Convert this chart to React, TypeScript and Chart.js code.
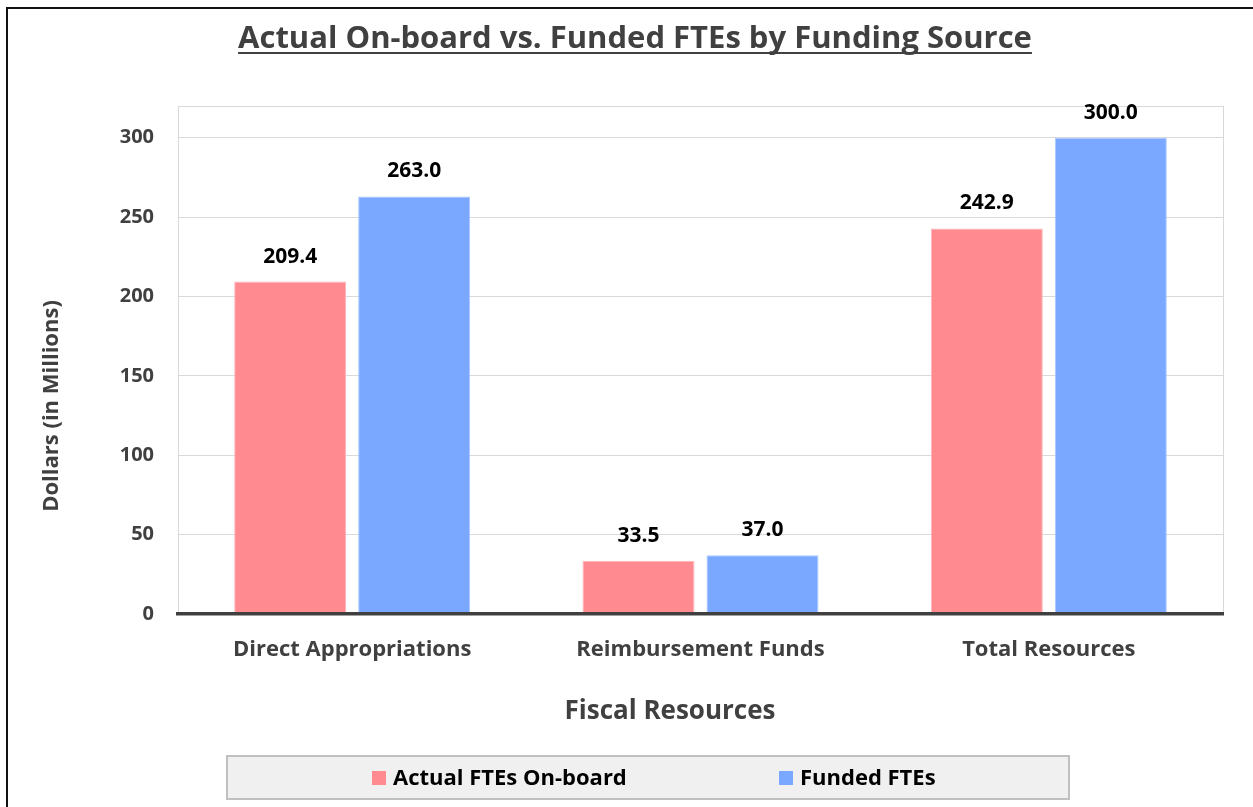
import React, { useEffect, useRef } from 'react';
import { Chart, registerables } from 'chart.js';

Chart.register(...registerables);

// ---------- data ----------
const categories = ['Direct Appropriations', 'Reimbursement Funds', 'Total Resources'];
const actualOnboard = [209.4, 33.5, 242.9];
const fundedFTEs = [263.0, 37.0, 300.0];
const seriesNames = ['Actual FTEs On-board', 'Funded FTEs'];
const yMin = 0;
const yMax = 320;
const yStep = 50;
const chartTitle = 'Actual On-board vs. Funded FTEs by Funding Source';
const xTitle = 'Fiscal Resources';
const yTitle = 'Dollars (in Millions)';

// ---------- styles ----------
const FONT = '"Open Sans", "DejaVu Sans", sans-serif';
const GRAY_TEXT = '#404040';
const RED = 'rgb(255,139,145)';
const RED_BORDER = 'rgb(255,180,184)';
const BLUE = 'rgb(122,167,255)';
const BLUE_BORDER = 'rgb(170,199,255)';
const GRID = '#D9D9D9';

const decorPlugin = {
  id: 'decor',
  beforeDatasetsDraw(chart: any) {
    const { ctx, chartArea } = chart;
    ctx.save();
    ctx.strokeStyle = GRID;
    ctx.lineWidth = 1;
    ctx.beginPath();
    ctx.moveTo(Math.round(chartArea.right) + 0.5, chartArea.top);
    ctx.lineTo(Math.round(chartArea.right) + 0.5, chartArea.bottom);
    ctx.stroke();
    ctx.restore();
  },
  afterDatasetsDraw(chart: any) {
    const { ctx } = chart;
    ctx.save();
    ctx.font = `bold 21px ${FONT}`;
    ctx.fillStyle = '#000000';
    ctx.textAlign = 'center';
    ctx.textBaseline = 'alphabetic';
    chart.data.datasets.forEach((ds: any, i: number) => {
      const meta = chart.getDatasetMeta(i);
      meta.data.forEach((bar: any, j: number) => {
        const v = ds.data[j] as number;
        ctx.fillText(v.toFixed(1), bar.x, bar.y - 19);
      });
    });
    ctx.restore();
  },
  afterDraw(chart: any) {
    const { ctx } = chart;
    ctx.save();
    // title
    ctx.font = `bold 31px ${FONT}`;
    ctx.fillStyle = GRAY_TEXT;
    ctx.textAlign = 'center';
    ctx.textBaseline = 'alphabetic';
    const tx = 635;
    ctx.fillText(chartTitle, tx, 48);
    const tw = ctx.measureText(chartTitle).width;
    ctx.fillRect(tx - tw / 2, 52, tw, 2);

    // x title
    ctx.font = `bold 26px ${FONT}`;
    ctx.fillText(xTitle, 670, 719);

    // y title
    ctx.save();
    ctx.translate(58, 406);
    ctx.rotate(-Math.PI / 2);
    ctx.font = `bold 22px ${FONT}`;
    ctx.fillText(yTitle, 0, 0);
    ctx.restore();

    // legend box
    ctx.fillStyle = '#F0F0F0';
    ctx.fillRect(226, 755, 844, 45);
    ctx.strokeStyle = '#C0C0C0';
    ctx.lineWidth = 2;
    ctx.strokeRect(227, 756, 842, 43);
    const items = [
      { x: 372, color: RED },
      { x: 779, color: BLUE },
    ];
    ctx.font = `bold 22px ${FONT}`;
    ctx.textAlign = 'left';
    items.forEach((it, i) => {
      ctx.fillStyle = it.color;
      ctx.fillRect(it.x, 771, 14, 14);
      ctx.fillStyle = '#000000';
      ctx.fillText(seriesNames[i], it.x + 21, 785);
    });
    ctx.restore();
  },
};

export default function App() {
  const ref = useRef<HTMLCanvasElement | null>(null);

  useEffect(() => {
    if (!ref.current) return;
    const chart = new Chart(ref.current, {
      type: 'bar',
      data: {
        labels: categories,
        datasets: [
          {
            label: seriesNames[0],
            data: actualOnboard,
            backgroundColor: RED,
            borderColor: RED_BORDER,
            borderWidth: 1,
            categoryPercentage: 0.712,
            barPercentage: 0.903,
          },
          {
            label: seriesNames[1],
            data: fundedFTEs,
            backgroundColor: BLUE,
            borderColor: BLUE_BORDER,
            borderWidth: 1,
            categoryPercentage: 0.712,
            barPercentage: 0.903,
          },
        ],
      },
      options: {
        responsive: false,
        animation: false,
        layout: { padding: { top: 106, right: 30, bottom: 77, left: 0 } },
        plugins: {
          legend: { display: false },
          title: { display: false },
          tooltip: { enabled: false },
        },
        scales: {
          x: {
            grid: { display: false },
            border: { display: true, color: '#404040', width: 3.5, z: 1 },
            ticks: {
              font: { family: FONT, size: 22, weight: 'bold' },
              color: GRAY_TEXT,
              padding: 15,
            },
            afterFit: (s: any) => {
              s.height = 116;
            },
          },
          y: {
            min: yMin,
            max: yMax,
            ticks: {
              stepSize: yStep,
              callback: (v: any) => (Number(v) % yStep === 0 ? String(v) : ''),
              font: { family: FONT, size: 20, weight: 'bold' },
              color: GRAY_TEXT,
              padding: 24,
            },
            grid: { color: GRID, lineWidth: 1, drawTicks: false },
            border: { display: true, color: GRID, width: 1 },
            afterFit: (s: any) => {
              s.width = 178;
            },
          },
        },
      },
      plugins: [decorPlugin],
    } as any);
    return () => chart.destroy();
  }, []);

  return (
    <div
      style={{
        position: 'fixed',
        left: 0,
        top: 0,
        width: 1253,
        height: 807,
        overflow: 'hidden',
        background: '#ffffff',
      }}
    >
      <div
        style={{
          position: 'absolute',
          left: 6,
          top: 7,
          width: 1400,
          height: 1000,
          border: '2px solid #111111',
          boxSizing: 'border-box',
        }}
      />
      <canvas
        ref={ref}
        width={1253}
        height={807}
        style={{ position: 'absolute', left: 0, top: 0, width: 1253, height: 807 }}
      />
    </div>
  );
}
